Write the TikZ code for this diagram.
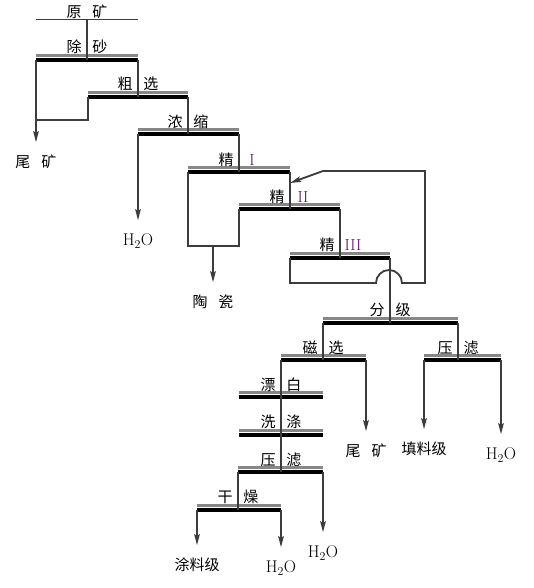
\documentclass[tikz,border=0pt]{standalone}
\usepackage{fontspec}
\usetikzlibrary{arrows.meta}
\newfontfamily\cjk{Noto Sans CJK SC}
\definecolor{linegray}{RGB}{60,60,60}
\definecolor{bargray}{RGB}{135,135,135}
\definecolor{numpurple}{RGB}{95,15,105}
\newcommand{\twochar}[2]{\makebox[15pt]{#1}\hspace{11pt}\makebox[15pt]{#2}}
\newcommand{\rnum}[1]{{\rmfamily\fontsize{16}{18}\selectfont\color{numpurple}#1}}

\begin{document}
\begin{tikzpicture}[x=1pt, y=-1pt,
  link/.style={draw=linegray, line width=1.8pt},
  arr/.style={link, -{Stealth[length=11pt,width=5.5pt,inset=1.5pt]}, shorten >=12pt},
  bar/.style={line width=4pt, black},
  bartop/.style={line width=3pt, bargray},
  lbl/.style={font=\cjk\fontsize{15}{17}\selectfont, inner sep=0pt},
  outtext/.style={lbl, text height=13pt, text depth=2pt},
  watertext/.style={outtext, font=\rmfamily\fontsize{17}{19}\selectfont}]
  \useasboundingbox (0,0) rectangle (534,588);

  % bar ends
  \coordinate (yk-l) at (36,20);   \coordinate (yk-m) at (87,20);   \coordinate (yk-r) at (138,20);
  \coordinate (cs-l) at (36,60);   \coordinate (cs-m) at (87,60);   \coordinate (cs-r) at (138,60);
  \coordinate (cx-l) at (88,97);   \coordinate (cx-m) at (138,97);  \coordinate (cx-r) at (188,97);
  \coordinate (ns-l) at (138,134); \coordinate (ns-m) at (188,134); \coordinate (ns-r) at (239,134);
  \coordinate (j1-l) at (188,172); \coordinate (j1-m) at (239,172); \coordinate (j1-r) at (290,172);
  \coordinate (j2-l) at (239,209); \coordinate (j2-m) at (290,209); \coordinate (j2-r) at (340,209);
  \coordinate (j3-l) at (290,258); \coordinate (j3-m) at (340,258); \coordinate (j3-r) at (390,258);
  \coordinate (fj-l) at (323,323); \coordinate (fj-m) at (390,323); \coordinate (fj-r) at (458,323);
  \coordinate (cx2-l) at (281,360); \coordinate (cx2-m) at (323,360); \coordinate (cx2-r) at (366,360);
  \coordinate (yl-l) at (424,360); \coordinate (yl-m) at (458,360); \coordinate (yl-r) at (501,360);
  \coordinate (pb-l) at (239,397); \coordinate (pb-m) at (281,397); \coordinate (pb-r) at (323,397);
  \coordinate (xd-l) at (239,435); \coordinate (xd-m) at (281,435); \coordinate (xd-r) at (323,435);
  \coordinate (yl2-l) at (238,472); \coordinate (yl2-m) at (281,472); \coordinate (yl2-r) at (323,472);
  \coordinate (gz-l) at (197,510); \coordinate (gz-m) at (238,510); \coordinate (gz-r) at (281,510);

  % bends
  \coordinate (cxback) at (88,120);
  \coordinate (j1back) at (188,246);
  \coordinate (j2back) at (239,246);
  \coordinate (tcout) at (213,246);
  \coordinate (j3back) at (290,283);
  \coordinate (hopin) at (376,283);
  \coordinate (fbdown) at (425,283);
  \coordinate (fbup) at (425,171);
  \coordinate (fbturn) at (323,171);
  \coordinate (fb) at (290,183);

  % bars
  \draw[linegray, line width=1pt] (yk-l) -- (yk-r);
  \foreach \b in {cs,cx,ns,j1,j2,j3,fj,cx2,yl,pb,xd,yl2,gz} {
    \draw[bartop] ([yshift=4.6pt]\b-l) -- ([yshift=4.6pt]\b-r);
    \draw[bar] (\b-l) -- (\b-r);
  }

  % labels
  \node[lbl] (lyk) at (87,12) {\twochar{原}{矿}};
  \node[lbl] (lcs) at (87,47) {\twochar{除}{砂}};
  \node[lbl] (lcx) at (138,84) {\twochar{粗}{选}};
  \node[lbl] (lns) at (188,122) {\twochar{浓}{缩}};
  \node[lbl] (lj1) at (239,160) {\twochar{精}{\rnum{I}}};
  \node[lbl] (lj2) at (290,197) {\twochar{精}{\rnum{II}}};
  \node[lbl] (lj3) at (340,245) {\twochar{精}{\rnum{III}}};
  \node[lbl] (lfj) at (390,310) {\twochar{分}{级}};
  \node[lbl] (lcx2) at (323,348) {\twochar{磁}{选}};
  \node[lbl] (lyl) at (458,348) {\twochar{压}{滤}};
  \node[lbl] (lpb) at (281,385) {\twochar{漂}{白}};
  \node[lbl] (lxd) at (281,422) {\twochar{洗}{涤}};
  \node[lbl] (lyl2) at (281,460) {\twochar{压}{滤}};
  \node[lbl] (lgz) at (238,497) {\twochar{干}{燥}};

  % products
  \node[outtext] (wk1) at (36,162) {\twochar{尾}{矿}};
  \node[watertext] (h2o1) at (138,240) {H$_2$O};
  \node[outtext] (tc) at (213,302) {\twochar{陶}{瓷}};
  \node[outtext] (wk2) at (366,451) {\twochar{尾}{矿}};
  \node[outtext] (tlj) at (424,449) {填料级};
  \node[watertext] (h2o2) at (501,454) {H$_2$O};
  \node[outtext] (tlj2) at (197,565) {涂料级};
  \node[watertext] (h2o4) at (281,567) {H$_2$O};
  \node[watertext] (h2o3) at (323,552) {H$_2$O};

  % flow
  \draw[link] (yk-m) -- (cs-m);
  \draw[arr] (cs-l) -- (wk1);
  \draw[link] (cs-r) -- (cx-m);
  \draw[link] (cx-l) -- (cxback) -- (cxback -| cs-l);
  \draw[link] (cx-r) -- (ns-m);
  \draw[arr] (ns-l) -- (h2o1);
  \draw[link] (ns-r) -- (j1-m);
  \draw[link] (j1-l) -- (j1back) -- (j2back) -- (j2-l);
  \draw[arr] (tcout) -- (tc);
  \draw[link] (j1-r) -- (j2-m);
  \draw[link] (j2-r) -- (j3-m);
  \draw[link] (j3-l) -- (j3back) -- (hopin) arc[start angle=180, end angle=0, radius=13pt] -- (fbdown) -- (fbup) -- (fbturn);
  \draw[link, -{Stealth[length=11pt,width=5.5pt,inset=1.5pt]}] (fbturn) -- (fb);
  \draw[link] (j3-r) -- (fj-m);
  \draw[link] (fj-l) -- (cx2-m);
  \draw[link] (fj-r) -- (yl-m);
  \draw[arr] (cx2-r) -- (wk2);
  \draw[arr] (yl-l) -- (tlj);
  \draw[arr] (yl-r) -- (h2o2);
  \draw[link] (cx2-l) -- (pb-m) -- (xd-m) -- (yl2-m);
  \draw[link] (yl2-l) -- (gz-m);
  \draw[arr] (yl2-r) -- (h2o3);
  \draw[arr] (gz-l) -- (tlj2);
  \draw[arr] (gz-r) -- (h2o4);
\end{tikzpicture}
\end{document}
